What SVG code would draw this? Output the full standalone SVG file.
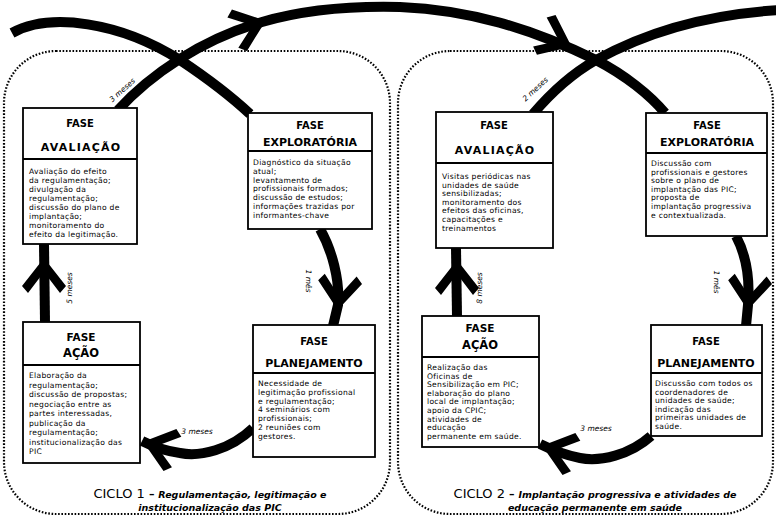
<svg xmlns="http://www.w3.org/2000/svg" width="776" height="518" viewBox="0 0 776 518">
<defs>
<style>
.cyc{fill:none;stroke:#000;stroke-width:2.2;stroke-dasharray:1.6 1.7}
.box{fill:#fff;stroke:#000;stroke-width:1.8}
.div{stroke:#000;stroke-width:1.8}
.hd{font-family:"DejaVu Sans",sans-serif;font-weight:bold;text-anchor:middle;fill:#000}
.bd{font-family:"DejaVu Sans",sans-serif;font-size:7.6px;letter-spacing:0.3px;fill:#000}
.lbl{font-family:"DejaVu Sans",sans-serif;font-size:7.5px;font-style:italic;fill:#000}
.arc{fill:none;stroke:#000;stroke-width:10;stroke-linecap:butt}
.ttl{font-family:"DejaVu Sans",sans-serif;fill:#000;text-anchor:middle}
.it{font-style:italic;font-weight:bold;font-size:9.5px}
</style>
<path id="ah" d="M4,0 L-24,-22 L-31,-16 L-10,0 L-31,16 L-24,22 Z" fill="#000"/>
</defs>
<rect width="776" height="518" fill="#fff"/>
<rect class="cyc" x="4" y="51" width="386" height="463" rx="52"/>
<rect class="cyc" x="398" y="51" width="375" height="463" rx="52"/>

<g id="connectors">
<path class="arc" d="M12,33 C50,12 120,22 180,60 C210,80 235,100 250,114"/>
<path class="arc" d="M118,110 C150,75 200,40 262,22 C310,8 360,6 400,7 C470,10 530,28 596,60 C625,75 650,95 665,113"/>
<path class="arc" d="M533,114 C555,88 575,72 596,60 C650,30 710,14 780,10"/>
<path class="arc" d="M320,229 C332,250 340,280 338,305 L333,326"/>
<path class="arc" d="M253,428 C230,450 200,457 180,453 C165,451 152,446 142,441"/>
<path class="arc" d="M45,322 L44,244"/>
<path class="arc" d="M457,316 L456,248"/>
<path class="arc" d="M736,236 C746,255 750,280 748,305 L746,326"/>
<path class="arc" d="M651,436 C630,455 600,462 580,458 C565,455 552,450 540,444"/>
<use href="#ah" transform="translate(262,22) rotate(-20)"/>
<use href="#ah" transform="translate(568,45) rotate(25)"/>
<use href="#ah" transform="translate(338,306) rotate(95)"/>
<use href="#ah" transform="translate(147,443) rotate(197)"/>
<use href="#ah" transform="translate(44,262) rotate(-90)"/>
<use href="#ah" transform="translate(457,264) rotate(-90)"/>
<use href="#ah" transform="translate(748,306) rotate(95)"/>
<use href="#ah" transform="translate(546,447) rotate(197)"/>
<text class="lbl" transform="translate(124,92) rotate(-42)" text-anchor="middle">3 meses</text>
<text class="lbl" transform="translate(537,91) rotate(-43)" text-anchor="middle">2 meses</text>
<text class="lbl" transform="translate(72,288) rotate(-90)" text-anchor="middle">5 meses</text>
<text class="lbl" transform="translate(482,288) rotate(-90)" text-anchor="middle">8 meses</text>
<text class="lbl" transform="translate(306,281) rotate(90)" text-anchor="middle">1 mês</text>
<text class="lbl" transform="translate(714,282) rotate(90)" text-anchor="middle">1 mês</text>
<text class="lbl" x="197" y="434" text-anchor="middle">3 meses</text>
<text class="lbl" x="596" y="431" text-anchor="middle">3 meses</text>
</g>

<g id="c1-avaliacao">
<rect class="box" x="23" y="108" width="114" height="136"/>
<line class="div" x1="23" y1="159" x2="137" y2="159"/>
<text class="hd" x="80" y="127" font-size="10">FASE</text>
<text class="hd" x="81" y="151" font-size="11" letter-spacing="1.2">AVALIAÇÃO</text>
<text class="bd" x="29" y="174">
<tspan x="29" dy="0">Avaliação do efeito</tspan>
<tspan x="29" dy="9">da regulamentação;</tspan>
<tspan x="29" dy="9">divulgação da</tspan>
<tspan x="29" dy="9">regulamentação;</tspan>
<tspan x="29" dy="9">discussão do plano de</tspan>
<tspan x="29" dy="9">implantação;</tspan>
<tspan x="29" dy="9">monitoramento do</tspan>
<tspan x="29" dy="9">efeito da legitimação.</tspan>
</text>
</g>

<g id="c1-exploratoria">
<rect class="box" x="248" y="113" width="124" height="116"/>
<line class="div" x1="248" y1="151" x2="372" y2="151"/>
<text class="hd" x="310" y="129" font-size="10">FASE</text>
<text class="hd" x="310" y="146" font-size="11">EXPLORATÓRIA</text>
<text class="bd" x="253" y="165">
<tspan x="253" dy="0">Diagnóstico da situação</tspan>
<tspan x="253" dy="8.8">atual;</tspan>
<tspan x="253" dy="8.8">levantamento de</tspan>
<tspan x="253" dy="8.8">profissionais formados;</tspan>
<tspan x="253" dy="8.8">discussão de estudos;</tspan>
<tspan x="253" dy="8.8">informações trazidas por</tspan>
<tspan x="253" dy="8.8">informantes-chave</tspan>
</text>
</g>

<g id="c1-acao">
<rect class="box" x="23" y="322" width="117" height="141"/>
<line class="div" x1="23" y1="365" x2="140" y2="365"/>
<text class="hd" x="81" y="341" font-size="10.5">FASE</text>
<text class="hd" x="81" y="357" font-size="11.5">AÇÃO</text>
<text class="bd" x="29" y="378">
<tspan x="29" dy="0">Elaboração da</tspan>
<tspan x="29" dy="9.5">regulamentação;</tspan>
<tspan x="29" dy="9.5">discussão de propostas;</tspan>
<tspan x="29" dy="9.5">negociação entre as</tspan>
<tspan x="29" dy="9.5">partes interessadas,</tspan>
<tspan x="29" dy="9.5">publicação da</tspan>
<tspan x="29" dy="9.5">regulamentação;</tspan>
<tspan x="29" dy="9.5">institucionalização das</tspan>
<tspan x="29" dy="9.5">PIC</tspan>
</text>
</g>

<g id="c1-planejamento">
<rect class="box" x="253" y="325" width="122" height="132"/>
<line class="div" x1="253" y1="373" x2="375" y2="373"/>
<text class="hd" x="314" y="345" font-size="10">FASE</text>
<text class="hd" x="314" y="367" font-size="11">PLANEJAMENTO</text>
<text class="bd" x="258" y="386">
<tspan x="258" dy="0">Necessidade de</tspan>
<tspan x="258" dy="8.8">legitimação profissional</tspan>
<tspan x="258" dy="8.8">e regulamentação;</tspan>
<tspan x="258" dy="8.8">4 seminários com</tspan>
<tspan x="258" dy="8.8">profissionais;</tspan>
<tspan x="258" dy="8.8">2 reuniões com</tspan>
<tspan x="258" dy="8.8">gestores.</tspan>
</text>
</g>

<g id="c2-avaliacao">
<rect class="box" x="436" y="112" width="117" height="136"/>
<line class="div" x1="436" y1="163" x2="553" y2="163"/>
<text class="hd" x="494" y="129" font-size="10">FASE</text>
<text class="hd" x="495" y="154" font-size="11" letter-spacing="1.2">AVALIAÇÃO</text>
<text class="bd" x="442" y="179">
<tspan x="442" dy="0">Visitas periódicas nas</tspan>
<tspan x="442" dy="8.6">unidades de saúde</tspan>
<tspan x="442" dy="8.6">sensibilizadas;</tspan>
<tspan x="442" dy="8.6">monitoramento dos</tspan>
<tspan x="442" dy="8.6">efeitos das oficinas,</tspan>
<tspan x="442" dy="8.6">capacitações e</tspan>
<tspan x="442" dy="8.6">treinamentos</tspan>
</text>
</g>

<g id="c2-exploratoria">
<rect class="box" x="646" y="113" width="121" height="123"/>
<line class="div" x1="646" y1="153" x2="767" y2="153"/>
<text class="hd" x="707" y="129" font-size="10">FASE</text>
<text class="hd" x="707" y="145.5" font-size="11">EXPLORATÓRIA</text>
<text class="bd" x="651" y="166">
<tspan x="651" dy="0">Discussão com</tspan>
<tspan x="651" dy="8.6">profissionais e gestores</tspan>
<tspan x="651" dy="8.6">sobre o plano de</tspan>
<tspan x="651" dy="8.6">implantação das PIC;</tspan>
<tspan x="651" dy="8.6">proposta de</tspan>
<tspan x="651" dy="8.6">implantação progressiva</tspan>
<tspan x="651" dy="8.6">e contextualizada.</tspan>
</text>
</g>

<g id="c2-acao">
<rect class="box" x="422" y="316" width="117" height="131"/>
<line class="div" x1="422" y1="357" x2="539" y2="357"/>
<text class="hd" x="480" y="332" font-size="10.5">FASE</text>
<text class="hd" x="480" y="349" font-size="11.5">AÇÃO</text>
<text class="bd" x="427" y="370">
<tspan x="427" dy="0">Realização das</tspan>
<tspan x="427" dy="8.6">Oficinas de</tspan>
<tspan x="427" dy="8.6">Sensibilização em PIC;</tspan>
<tspan x="427" dy="8.6">elaboração do plano</tspan>
<tspan x="427" dy="8.6">local de implantação;</tspan>
<tspan x="427" dy="8.6">apoio da CPIC;</tspan>
<tspan x="427" dy="8.6">atividades de</tspan>
<tspan x="427" dy="8.6">educação</tspan>
<tspan x="427" dy="8.6">permanente em saúde.</tspan>
</text>
</g>

<g id="c2-planejamento">
<rect class="box" x="651" y="325" width="111" height="111"/>
<line class="div" x1="651" y1="373" x2="762" y2="373"/>
<text class="hd" x="706" y="345" font-size="10">FASE</text>
<text class="hd" x="706" y="367" font-size="11">PLANEJAMENTO</text>
<text class="bd" x="655" y="386">
<tspan x="655" dy="0">Discussão com todos os</tspan>
<tspan x="655" dy="8.6">coordenadores de</tspan>
<tspan x="655" dy="8.6">unidades de saúde;</tspan>
<tspan x="655" dy="8.6">indicação das</tspan>
<tspan x="655" dy="8.6">primeiras unidades de</tspan>
<tspan x="655" dy="8.6">saúde.</tspan>
</text>
</g>

<g id="titles">
<text class="ttl" x="210" y="498"><tspan font-size="13">CICLO 1 </tspan><tspan font-size="11" font-weight="bold">– </tspan><tspan class="it">Regulamentação, legitimação e</tspan></text>
<text class="ttl" x="210" y="511"><tspan class="it">institucionalização das PIC</tspan></text>
<text class="ttl" x="595" y="498"><tspan font-size="13">CICLO 2 </tspan><tspan font-size="11" font-weight="bold">– </tspan><tspan class="it">Implantação progressiva e atividades de</tspan></text>
<text class="ttl" x="595" y="511"><tspan class="it">educação permanente em saúde</tspan></text>
</g>
</svg>
